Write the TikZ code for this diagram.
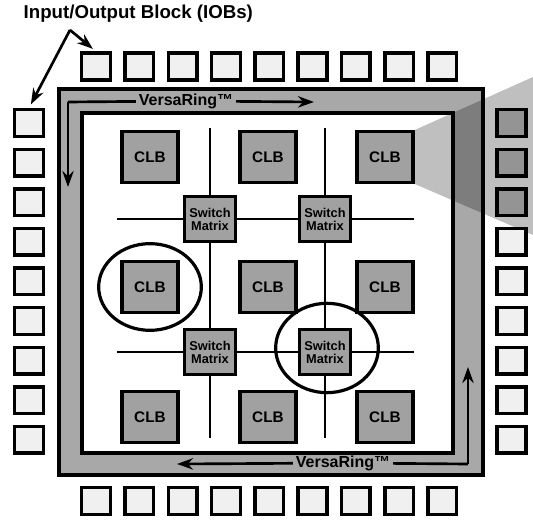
\documentclass[tikz,border=0pt]{standalone}
\usepackage{fontspec}
\setmainfont{Liberation Sans}
\usepackage{tikz}
\usetikzlibrary{shapes.geometric,arrows.meta}

\definecolor{ringgray}{gray}{0.66}
\definecolor{blockgray}{gray}{0.63}
\definecolor{iobfill}{gray}{0.94}
\definecolor{iobdark}{gray}{0.58}

\tikzset{
  iob/.style={draw,line width=2.6pt,fill=iobfill,minimum width=21.5pt,minimum height=20pt,inner sep=0pt},
  clb/.style={draw,line width=2.4pt,fill=blockgray,minimum width=42pt,minimum height=38pt,inner sep=0pt,
    font=\bfseries\fontsize{11.5}{11.5}\selectfont},
  swm/.style={draw,line width=2.4pt,fill=blockgray,minimum width=38pt,minimum height=33.5pt,inner sep=0pt,
    align=center,font=\bfseries\fontsize{9.6}{9.8}\selectfont},
  ringlbl/.style={inner sep=2pt,font=\bfseries\fontsize{12}{12}\selectfont},
  flow/.style={line width=2pt},
  flowto/.style={line width=2pt,-{Stealth[length=12pt,width=8.5pt]}},
  wire/.style={line width=1.8pt},
  hilite/.style={ellipse,draw,line width=2.4pt,inner sep=0pt}
}

\begin{document}
\begin{tikzpicture}[x=0.75pt,y=-0.75pt]
\useasboundingbox (0,0) rectangle (533,520);
% title and pointers
\node[anchor=west,font=\bfseries\fontsize{14}{14}\selectfont] (title) at (19,14) {Input/Output Block (IOBs)};
\coordinate (apex) at (70,30);
% VersaRing
\draw[line width=2.4pt,fill=ringgray] (59,89) rectangle (483,475);
\draw[line width=2.4pt,fill=white] (82,113) rectangle (453,453);
\coordinate (tl) at (68,102);\coordinate (ldn) at (68,187);\coordinate (trt) at (314,102);
\node[ringlbl] (ringT) at (186,101) {VersaRing™};
\draw[flowto] (tl)--(ldn);
\draw[flow] (tl)--(ringT);
\draw[flowto] (ringT)--(trt);
\coordinate (br) at (468,464);\coordinate (rup) at (468,367);\coordinate (blt) at (177,464);
\node[ringlbl] (ringB) at (343,463) {VersaRing™};
\draw[flowto] (br)--(rup);
\draw[flow] (br)--(ringB);
\draw[flowto] (ringB)--(blt);
% routing
\coordinate (v1t) at (210,128);\coordinate (v1b) at (210,438);
\coordinate (v2t) at (325,128);\coordinate (v2b) at (325,438);
\coordinate (h1l) at (117,219);\coordinate (h1r) at (414,219);
\coordinate (h2l) at (117,352);\coordinate (h2r) at (414,352);
\draw[wire] (v1t)--(v1b);\draw[wire] (v2t)--(v2b);
\draw[wire] (h1l)--(h1r);\draw[wire] (h2l)--(h2r);
\node[swm] (s11) at (210,219) {Switch\\Matrix};\node[swm] (s12) at (325,219) {Switch\\Matrix};
\node[swm] (s21) at (210,352) {Switch\\Matrix};\node[swm] (s22) at (325,352) {Switch\\Matrix};
% logic blocks
\node[clb] (c11) at (150,157) {CLB};\node[clb] (c12) at (268,157) {CLB};\node[clb] (c13) at (385,157) {CLB};
\node[clb] (c21) at (150,287) {CLB};\node[clb] (c22) at (268,287) {CLB};\node[clb] (c23) at (385,287) {CLB};
\node[clb] (c31) at (150,417) {CLB};\node[clb] (c32) at (268,417) {CLB};\node[clb] (c33) at (385,417) {CLB};
% zoom wedge
\fill[black,opacity=0.25] (c13.north east)--(533,77)--(533,235)--(c13.south east)--cycle;
% IOBs
\foreach \i in {0,...,8}{
  \node[iob] (t\i) at (96+43.3*\i,66.5) {};
  \node[iob] (b\i) at (96+43.3*\i,501) {};
  \node[iob] (l\i) at (29,123+39.6*\i) {};
}
\foreach \i/\f in {0/iobdark,1/iobdark,2/iobdark,3/iobfill,4/iobfill,5/iobfill,6/iobfill,7/iobfill,8/iobfill}
  \node[iob,fill=\f] (r\i) at (511.5,123+39.6*\i) {};
\draw[flowto,shorten >=3pt] (apex)--(t0.north);
\draw[flowto,shorten >=3pt] (apex)--(l0.north);
% highlights
\node[hilite,minimum width=77pt,minimum height=65pt] (e1) at (c21) {};
\node[hilite,minimum width=77pt,minimum height=67pt] (e2) at (327,348) {};
\end{tikzpicture}
\end{document}
